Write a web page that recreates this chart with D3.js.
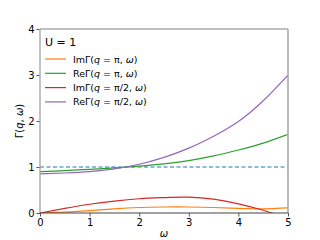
<!DOCTYPE html>
<html>
<meta charset="utf-8">
<style>
body { margin: 0; background: #fff; }
text { font-family: "DejaVu Sans", sans-serif; }
.tick text { font-size: 10px; fill: #000; }
</style>
<body>
<script src="https://d3js.org/d3.v7.min.js"></script>
<script>
// values
var omega = [0, 0.5, 1, 1.5, 2, 2.5, 3, 3.5, 4, 4.5, 5];
var imPi = [0, 0.02, 0.05, 0.09, 0.12, 0.13, 0.13, 0.12, 0.10, 0.09, 0.11];
var rePi = [0.90, 0.92, 0.95, 0.98, 1.02, 1.07, 1.14, 1.24, 1.37, 1.52, 1.71];
var imHalf = [0, 0.10, 0.19, 0.26, 0.31, 0.335, 0.345, 0.30, 0.20, 0.06, -0.12];
var reHalf = [0.85, 0.87, 0.90, 0.96, 1.06, 1.21, 1.41, 1.67, 1.99, 2.44, 3.0];
var xTicks = [0, 1, 2, 3, 4, 5];
var yTicks = [0, 1, 2, 3, 4];

var series = [
  {name: "Im", q: "π", vals: imPi, color: "#ff7f0e"},
  {name: "Re", q: "π", vals: rePi, color: "#2ca02c"},
  {name: "Im", q: "π/2", vals: imHalf, color: "#d62728"},
  {name: "Re", q: "π/2", vals: reHalf, color: "#9467bd"}
];

var margin = {top: 29, right: 32, bottom: 27, left: 40},
    width = 320 - margin.left - margin.right,
    height = 240 - margin.top - margin.bottom;

var svg = d3.select("body").append("svg")
    .attr("width", 320)
    .attr("height", 240)
  .append("g")
    .attr("transform", "translate(" + margin.left + "," + margin.top + ")");

var x = d3.scaleLinear().domain([0, 5]).range([0, width]);
var y = d3.scaleLinear().domain([0, 4]).range([height, 0]);

svg.append("defs").append("clipPath")
    .attr("id", "clip").append("rect")
    .attr("width", width)
    .attr("height", height);

// dashed reference at 1
svg.append("line")
    .attr("x1", 0).attr("x2", width)
    .attr("y1", y(1)).attr("y2", y(1))
    .attr("stroke", "#1f77b4")
    .attr("stroke-width", 1)
    .attr("stroke-dasharray", "4,2.5");

var line = d3.line()
    .x(function(d, i) { return x(omega[i]); })
    .y(function(d) { return y(d); })
    .curve(d3.curveNatural);

var lines = svg.append("g").attr("clip-path", "url(#clip)");
series.forEach(function(s) {
  lines.append("path")
      .attr("d", line(s.vals))
      .attr("fill", "none")
      .attr("stroke", s.color)
      .attr("stroke-width", 1.2);
});

// axes
var xAxis = svg.append("g")
    .attr("transform", "translate(0," + height + ")")
    .call(d3.axisBottom(x).tickValues(xTicks).tickFormat(d3.format("d")).tickSize(3.5).tickPadding(2));
var yAxis = svg.append("g")
    .call(d3.axisLeft(y).tickValues(yTicks).tickFormat(d3.format("d")).tickSize(3.5).tickPadding(2));
xAxis.select(".domain").remove();
yAxis.select(".domain").remove();
svg.selectAll(".tick line").attr("stroke", "#555");

// frame
svg.append("line").attr("x1", 0).attr("x2", 0).attr("y1", 0).attr("y2", height)
    .attr("stroke", "#aaa").attr("stroke-width", 1.4);
svg.append("line").attr("x1", width).attr("x2", width).attr("y1", 0).attr("y2", height)
    .attr("stroke", "#aaa").attr("stroke-width", 1.6);
svg.append("line").attr("x1", 0).attr("x2", width).attr("y1", 0).attr("y2", 0)
    .attr("stroke", "#aaa").attr("stroke-width", 1.4);
svg.append("line").attr("x1", 0).attr("x2", width).attr("y1", height).attr("y2", height)
    .attr("stroke", "#444").attr("stroke-width", 1.2);

// axis labels
svg.append("text")
    .attr("x", width / 2)
    .attr("y", height + 24)
    .attr("text-anchor", "middle")
    .style("font-size", "10px")
    .style("font-style", "italic")
    .text("ω");

var yl = svg.append("text")
    .attr("transform", "translate(-17," + (height / 2) + ") rotate(-90)")
    .attr("text-anchor", "middle")
    .style("font-size", "10px");
yl.append("tspan").text("Γ(");
yl.append("tspan").style("font-style", "italic").text("q");
yl.append("tspan").text(", ");
yl.append("tspan").style("font-style", "italic").text("ω");
yl.append("tspan").text(")");

// legend
svg.append("text")
    .attr("x", 5)
    .attr("y", 17)
    .style("font-size", "11px")
    .text("U = 1");

var legend = svg.selectAll(".legend")
    .data(series)
  .enter().append("g")
    .attr("class", "legend")
    .attr("transform", function(d, i) { return "translate(5," + (30 + i * 14.3) + ")"; });

legend.append("line")
    .attr("x1", 0).attr("x2", 21)
    .attr("stroke", function(d) { return d.color; })
    .attr("stroke-width", 1.2);

var lt = legend.append("text")
    .attr("x", 28)
    .attr("y", 3.5)
    .style("font-size", "9.5px");
lt.append("tspan").text(function(d) { return d.name + "Γ("; });
lt.append("tspan").style("font-style", "italic").text("q");
lt.append("tspan").text(function(d) { return " = " + d.q + ", "; });
lt.append("tspan").style("font-style", "italic").text("ω");
lt.append("tspan").text(")");
</script>
</body>
</html>
